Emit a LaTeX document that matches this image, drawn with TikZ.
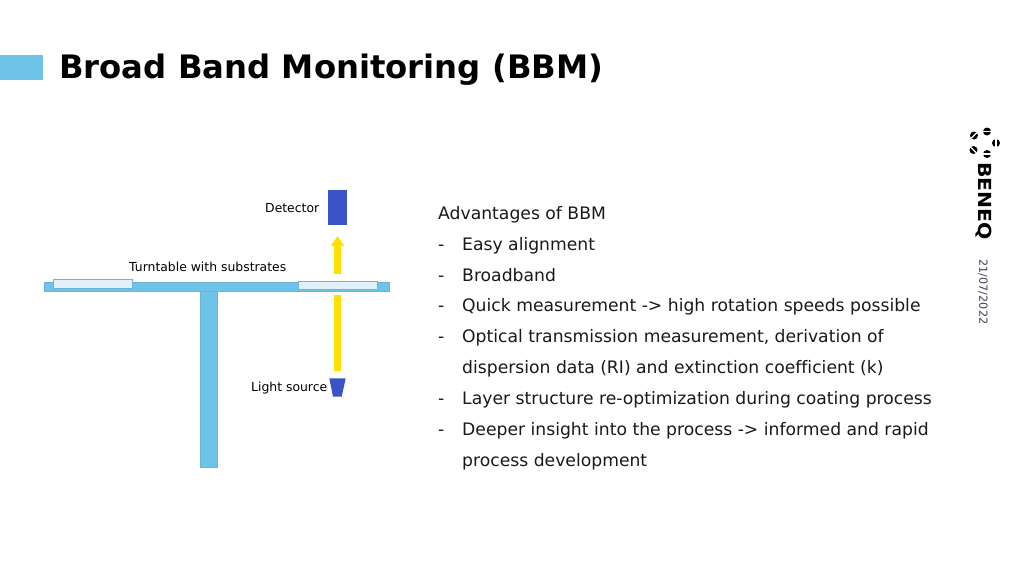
\documentclass[tikz,border=0pt]{standalone}
\usepackage{fontspec}
\setmainfont{DejaVu Sans}[Ligatures=NoCommon]
\usetikzlibrary{arrows.meta}
\definecolor{beneqblue}{RGB}{110,196,232}
\definecolor{glassblue}{RGB}{226,241,249}
\definecolor{edgeblue}{RGB}{110,180,210}
\definecolor{darkblue}{RGB}{58,84,200}
\definecolor{beamyellow}{RGB}{255,224,0}
\definecolor{bodytext}{RGB}{25,25,25}
\definecolor{datetext}{RGB}{60,64,85}
\tikzset{
    listitem/.style={anchor=base west, inner sep=0pt, text=bodytext, font=\fontsize{17.2}{20}\selectfont},
    smalllabel/.style={anchor=base west, inner sep=0pt, font=\fontsize{12.4}{14}\selectfont},
    beam/.style={draw=beamyellow, line width=7pt},
    logodot/.style={circle, fill=black, inner sep=0pt, minimum size=8pt},
    logoslash/.style={draw=white, line width=1.2pt}
}
\begin{document}
\begin{tikzpicture}[x=1pt, y=-1pt]
    \useasboundingbox (0, 0) rectangle (1024, 575);

    % title
    \fill[beneqblue] (0, 55.5) rectangle (43, 80);
    \node[anchor=base west, inner sep=0pt, font=\fontsize{32.3}{38}\selectfont\bfseries] (title) at (59, 79) {Broad Band Monitoring (BBM)};

    % turntable
    \fill[beneqblue, draw=edgeblue, line width=0.4pt] (44, 282.3) rectangle (388.7, 291);
    \fill[beneqblue, draw=edgeblue, line width=0.4pt] (200, 291) rectangle (216.7, 467);
    \filldraw[fill=glassblue, draw=edgeblue, line width=0.6pt] (53.3, 279.5) rectangle (132.7, 288.3);
    \filldraw[fill=glassblue, draw=edgeblue, line width=0.6pt] (298.3, 281) rectangle (377.5, 289.5);
    \node[smalllabel] (turntable) at (129, 271) {Turntable with substrates};

    % detector and light source
    \node[fill=darkblue, inner sep=0pt, minimum width=19pt, minimum height=35pt] (detector) at (337.5, 207.5) {};
    \node[smalllabel] (detlabel) at (265, 212) {Detector};
    \fill[darkblue] (329.3, 378.3) -- (345.7, 378.3) -- (341.7, 396.7) -- (333, 396.7) -- cycle;
    \node[smalllabel] (lightlabel) at (251, 391) {Light source};

    % yellow beam
    \coordinate (beamstart) at (337.5, 371);
    \coordinate (beamstop) at (337.5, 295);
    \coordinate (beamrestart) at (337.5, 274);
    \coordinate (beamend) at (337.5, 236);
    \draw[beam] (beamstart) -- (beamstop);
    \draw[beam, -{Triangle[length=10pt, width=13pt]}] (beamrestart) -- (beamend);

    % advantages
    \node[listitem] (adv) at (438, 219) {Advantages of BBM};
    \node[listitem] (dasha) at (438, 250) {-};
    \node[listitem] (itema) at (462, 250) {Easy alignment};
    \node[listitem] (dashb) at (438, 281) {-};
    \node[listitem] (itemb) at (462, 281) {Broadband};
    \node[listitem] (dashc) at (438, 311) {-};
    \node[listitem] (itemc) at (462, 311) {Quick measurement -> high rotation speeds possible};
    \node[listitem] (dashd) at (438, 342) {-};
    \node[listitem] (itemd) at (462, 342) {Optical transmission measurement, derivation of};
    \node[listitem] (iteme) at (462, 373) {dispersion data (RI) and extinction coefficient (k)};
    \node[listitem] (dashf) at (438, 404) {-};
    \node[listitem] (itemf) at (462, 404) {Layer structure re-optimization during coating process};
    \node[listitem] (dashg) at (438, 435) {-};
    \node[listitem] (itemg) at (462, 435) {Deeper insight into the process -> informed and rapid};
    \node[listitem] (itemh) at (462, 466) {process development};

    % logo and date
    \node[logodot] (dota) at (987, 131.5) {};
    \node[logodot] (dotb) at (996, 143) {};
    \node[logodot] (dotc) at (987, 154) {};
    \node[logodot] (dotd) at (973.5, 150) {};
    \node[logodot] (dote) at (974, 135.5) {};
    \foreach \dotname/\angfrom/\angto in {dota/180/0, dotb/90/270, dotc/180/0, dotd/135/315, dote/45/225}
        \draw[logoslash] (\dotname.\angfrom) -- (\dotname.\angto);
    \node[rotate=-90, inner sep=0pt, xscale=1.13, font=\fontsize{18}{20}\selectfont\bfseries] (logo) at (983.5, 201) {BENEQ};
    \node[rotate=-90, inner sep=0pt, text=datetext, font=\fontsize{11.2}{12}\selectfont] (date) at (983, 292) {21/07/2022};
\end{tikzpicture}
\end{document}
